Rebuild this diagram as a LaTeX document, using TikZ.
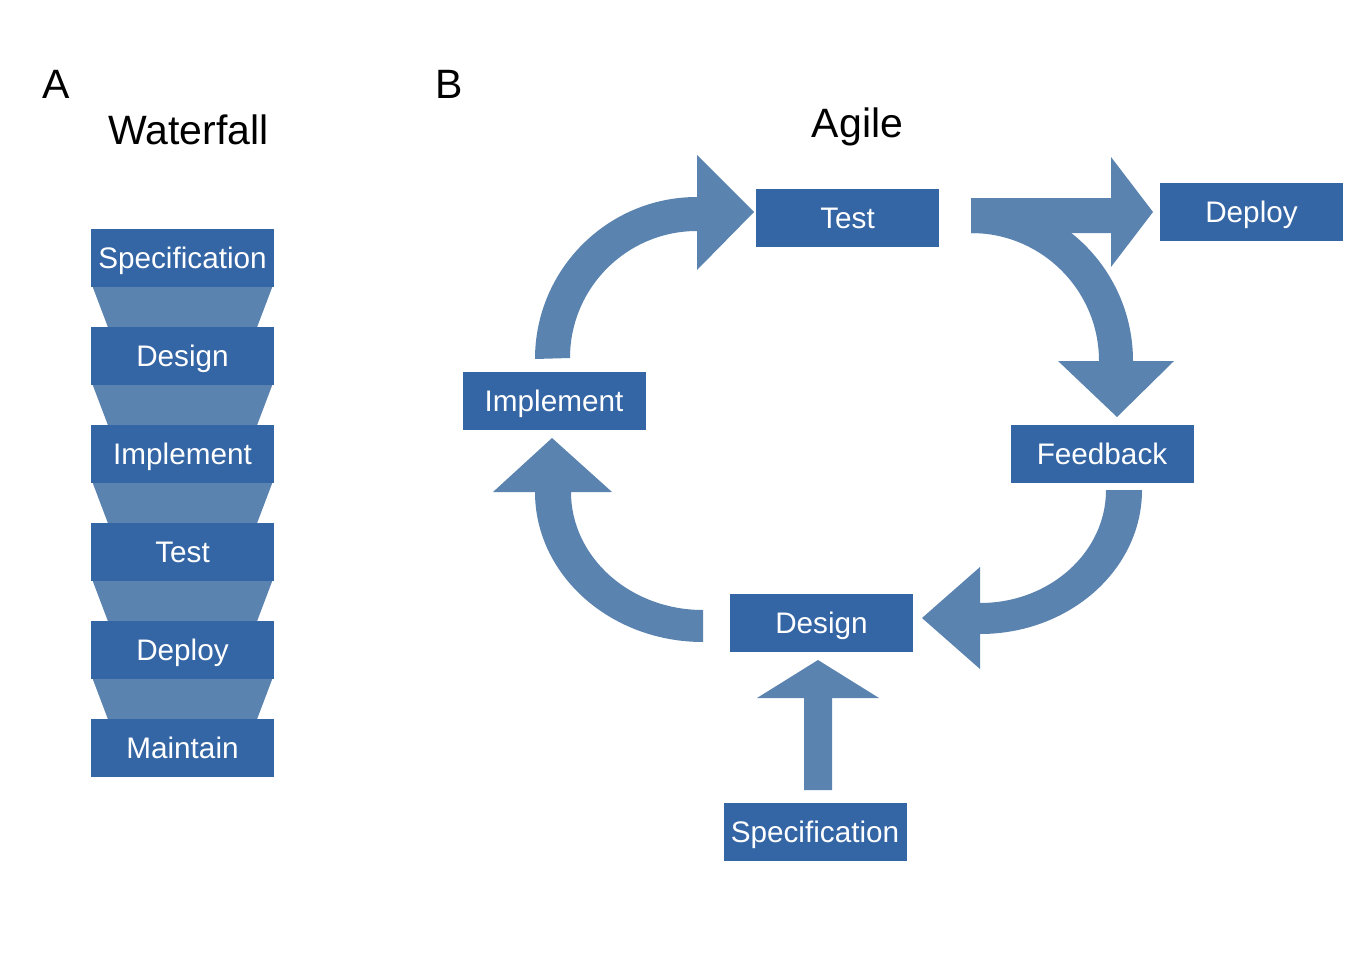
\documentclass[tikz,border=0pt]{standalone}
\usepackage{fontspec}
\setmainfont{Liberation Sans}
\usetikzlibrary{calc}
\definecolor{boxblue}{HTML}{3465A4}
\definecolor{arrowblue}{HTML}{5A83B0}
\tikzset{
  box/.style={rectangle, fill=boxblue, draw=none, minimum width=183pt, minimum height=58pt,
    inner sep=0pt, text=white, font=\fontsize{29.7}{35}\selectfont, text height=21pt, text depth=0pt},
  blk/.style={fill=arrowblue, draw=none},
  title/.style={font=\fontsize{41}{48}\selectfont, anchor=base, inner sep=0pt}
}
\begin{document}
\begin{tikzpicture}[x=1pt,y=-1pt]
\useasboundingbox (0,0) rectangle (1370,966);
% titles
\node[title, anchor=base west] (lA) at (42,98) {A};
\node[title, anchor=base west] (lB) at (435,98) {B};
\node[title] (tW) at (188.5,144) {Waterfall};
\node[title] (tA) at (857.5,137) {Agile};
% waterfall
\foreach \n/\t/\y in {w1/Specification/258, w2/Design/356, w3/Implement/454, w4/Test/552, w5/Deploy/650, w6/Maintain/748}{
  \node[box] (\n) at (182.5,\y) {\t};
}
\foreach \a/\b in {w1/w2, w2/w3, w3/w4, w4/w5, w5/w6}{
  \fill[arrowblue] ($(\a.south west)+(2,0)$) -- ($(\a.south east)+(-2,0)$) -- ($(\b.north east)+(-17,0)$) -- ($(\b.north west)+(17,0)$) -- cycle;
}
% agile boxes
\node[box] (test) at (847.5,218) {Test};
\node[box] (deploy) at (1251.5,212) {Deploy};
\node[box] (impl) at (554,401) {Implement};
\node[box] (feed) at (1102,454) {Feedback};
\node[box] (design) at (821.5,623) {Design};
\node[box] (spec) at (815,832) {Specification};
% Implement -> Test
\fill[blk] (535,359) arc[start angle=180, end angle=270, radius=162] -- (697,155) -- (754,212) -- (697,270) -- (697,231)
  arc[start angle=270, end angle=180, radius=127] -- cycle;
% Design -> Implement
\fill[blk] (703,642) arc[start angle=90, end angle=180, x radius=168, y radius=150] -- (493,492) -- (552,438) -- (612,492) -- (571,492)
  arc[start angle=180, end angle=90, x radius=132, y radius=118] -- cycle;
% Feedback -> Design
\fill[blk] (1142,490) arc[start angle=0, end angle=90, x radius=162, y radius=144] -- (980,669) -- (922,618) -- (980,567) -- (980,603)
  arc[start angle=90, end angle=0, x radius=126, y radius=113] -- cycle;
% Test -> Deploy
\fill[blk] (971,198) -- (1111,198) -- (1111,157) -- (1153,212) -- (1111,267) -- (1111,233) -- (971,233) -- cycle;
% Test -> Feedback
\fill[blk] (971,198) arc[start angle=270, end angle=360, x radius=162, y radius=163] -- (1174,361) -- (1117,417) -- (1058,361) -- (1099,361)
  arc[start angle=360, end angle=270, radius=128] -- cycle;
% Specification -> Design
\fill[blk] (804,790) -- (804,698) -- (757,698) -- (818,660) -- (879,698) -- (832,698) -- (832,790) -- cycle;
\end{tikzpicture}
\end{document}
